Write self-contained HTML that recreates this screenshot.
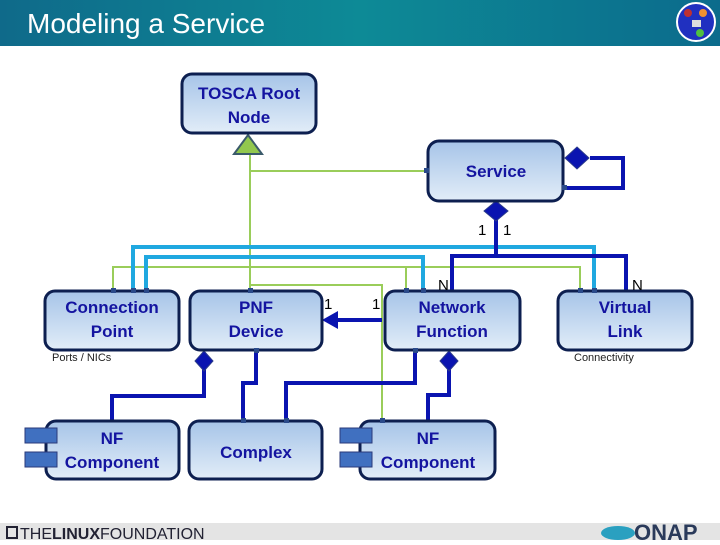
<!DOCTYPE html>
<html><head><meta charset="utf-8"><style>
body{margin:0;width:720px;height:540px;overflow:hidden;background:#fff;font-family:"Liberation Sans",sans-serif}
</style></head><body>
<svg width="720" height="540" xmlns="http://www.w3.org/2000/svg">
<defs>
<linearGradient id="hd" x1="0" y1="0" x2="1" y2="0"><stop offset="0" stop-color="#0f6a8a"/><stop offset="0.5" stop-color="#0d8a96"/><stop offset="1" stop-color="#0c6b8c"/></linearGradient>
<linearGradient id="bx" x1="0" y1="0" x2="0" y2="1"><stop offset="0" stop-color="#a6c4e8"/><stop offset="1" stop-color="#e2edf8"/></linearGradient>
</defs>
<rect x="0" y="0" width="720" height="46" fill="url(#hd)"/>
<text x="27" y="33" font-size="28" fill="#fff">Modeling a Service</text>
<circle cx="696" cy="22" r="19" fill="#2030c0" stroke="#fff" stroke-width="2"/>
<circle cx="688" cy="13" r="4" fill="#c03030"/><circle cx="703" cy="13" r="4" fill="#f09030"/><rect x="692" y="20" width="9" height="7" fill="#ddd"/><circle cx="700" cy="33" r="4" fill="#50c040"/>

<g fill="none" stroke-linejoin="miter">
<!-- green lines -->
<g stroke="#9acd5a" stroke-width="2">
<path d="M250 154 V292"/><path d="M250 171 H428"/>
<path d="M113 292 V267 H580 V292"/><path d="M406 267 V292"/>
<path d="M250 285 H382 V421"/>
</g>
<!-- cyan lines -->
<g stroke="#20a8e0" stroke-width="4">
<path d="M133 292 V247 H594 V292"/>
<path d="M146 292 V257 H423 V292"/>
</g>
<!-- dark blue -->
<g stroke="#0a14b0" stroke-width="4">
<path d="M496 220 V256"/><path d="M452 292 V256 H626 V292"/>
<path d="M590 158 H623 V188 H565"/>
<path d="M204 366 V396 H112 V421"/>
<path d="M256 350 V383 H243 V421"/>
<path d="M415 350 V383 H286 V421"/>
<path d="M449 366 V395 H428 V421"/>
<path d="M382 320 H335"/>
</g>
</g>
<polygon points="322,320 338,311 338,329" fill="#0a14b0"/>
<polygon points="496,201 508,211 496,221 484,211" fill="#0a14b0" stroke="#2a3a8a"/>
<polygon points="577,147 589,158 577,169 565,158" fill="#0a14b0" stroke="#2a3a8a"/>
<polygon points="204,351 213,361 204,371 195,361" fill="#0a14b0" stroke="#2a3a8a"/>
<polygon points="449,351 458,361 449,371 440,361" fill="#0a14b0" stroke="#2a3a8a"/>
<polygon points="248,135 262,154 234,154" fill="#92c84e" stroke="#3a5a6a" stroke-width="2"/>

<g stroke="#0d1f50" stroke-width="3" fill="url(#bx)">
<rect x="182" y="74" width="134" height="59" rx="10"/>
<rect x="428" y="141" width="135" height="60" rx="11"/>
<rect x="45" y="291" width="134" height="59" rx="10"/>
<rect x="190" y="291" width="132" height="59" rx="10"/>
<rect x="385" y="291" width="135" height="59" rx="10"/>
<rect x="558" y="291" width="134" height="59" rx="10"/>
<rect x="46" y="421" width="133" height="58" rx="10"/>
<rect x="189" y="421" width="133" height="58" rx="10"/>
<rect x="360" y="421" width="135" height="58" rx="10"/>
</g>
<g fill="#4070c0" stroke="#2a3a7a" stroke-width="1">
<rect x="25" y="428" width="32" height="15"/><rect x="25" y="452" width="32" height="15"/>
<rect x="340" y="428" width="32" height="15"/><rect x="340" y="452" width="32" height="15"/>
</g>
<g fill="#2a4a8a">
<rect x="424" y="168" width="5" height="5"/><rect x="562" y="185" width="5" height="5"/>
<rect x="111" y="288" width="5" height="5"/><rect x="131" y="288" width="5" height="5"/><rect x="144" y="288" width="5" height="5"/>
<rect x="248" y="288" width="5" height="5"/><rect x="404" y="288" width="5" height="5"/><rect x="421" y="288" width="5" height="5"/>
<rect x="578" y="288" width="5" height="5"/><rect x="592" y="288" width="5" height="5"/>
<rect x="254" y="348" width="5" height="5"/><rect x="413" y="348" width="5" height="5"/>
<rect x="241" y="418" width="5" height="5"/><rect x="284" y="418" width="5" height="5"/><rect x="380" y="418" width="5" height="5"/>
</g>

<g font-size="17" font-weight="bold" fill="#1414a0" text-anchor="middle">
<text x="249" y="99">TOSCA Root</text><text x="249" y="123">Node</text>
<text x="496" y="177">Service</text>
<text x="112" y="313">Connection</text><text x="112" y="337">Point</text>
<text x="256" y="313">PNF</text><text x="256" y="337">Device</text>
<text x="452" y="313">Network</text><text x="452" y="337">Function</text>
<text x="625" y="313">Virtual</text><text x="625" y="337">Link</text>
<text x="112" y="444">NF</text><text x="112" y="468">Component</text>
<text x="256" y="458">Complex</text>
<text x="428" y="444">NF</text><text x="428" y="468">Component</text>
</g>
<g font-size="15" fill="#000">
<text x="478" y="235">1</text><text x="503" y="235">1</text>
<text x="438" y="290">N</text><text x="632" y="290">N</text>
<text x="324" y="309">1</text><text x="372" y="309">1</text>
</g>
<text x="52" y="361" font-size="11" fill="#222">Ports / NICs</text>
<text x="574" y="361" font-size="11" fill="#222">Connectivity</text>

<rect x="0" y="523" width="720" height="17" fill="#e4e4e4"/>
<rect x="7" y="527" width="10" height="11" fill="none" stroke="#223" stroke-width="2"/>
<text x="20" y="539" font-size="16" fill="#223">THE<tspan font-weight="bold">LINUX</tspan>FOUNDATION</text>
<ellipse cx="618" cy="533" rx="17" ry="7" fill="#2aa0c0"/>
<text x="634" y="540" font-size="22" font-weight="bold" fill="#2a3a5a">ONAP</text>
</svg>
</body></html>
